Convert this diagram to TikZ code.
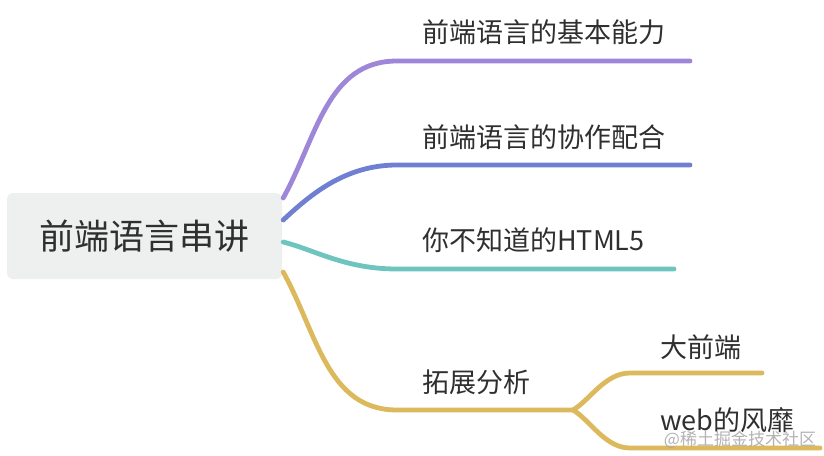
\documentclass[tikz,border=0pt]{standalone}
\usepackage{fontspec}
\setmainfont{Noto Sans CJK SC}
\usetikzlibrary{calc}
\definecolor{purp}{HTML}{9E86D8}
\definecolor{blu}{HTML}{6F80D3}
\definecolor{tealb}{HTML}{6EC4BE}
\definecolor{goldb}{HTML}{DDB95E}
\definecolor{rootbg}{HTML}{EEF0EF}
\definecolor{txt}{HTML}{2F2F2F}

\begin{document}
\begin{tikzpicture}[x=1pt,y=-1pt,
  br/.style={line width=4.8pt,line cap=round},
  lbl/.style={anchor=west,inner sep=0pt,text=txt,font=\fontsize{27}{30}\selectfont}]
  \useasboundingbox (0,0) rectangle (824,455);
  \node[fill=rootbg,rounded corners=6pt,minimum width=275pt,minimum height=86pt,
    text=txt,font=\fontsize{35}{40}\selectfont] (root) at (144.5,236) {前端语言串讲};
  % labels
  \node[lbl] (a) at (422,32) {前端语言的基本能力};
  \node[lbl] (b) at (422,137) {前端语言的协作配合};
  \node[lbl] (c) at (422,240) {你不知道的HTML5};
  \node[lbl] (d) at (422,382) {拓展分析};
  \node[lbl] (d1) at (660,347) {大前端};
  \node[lbl] (d2) at (660,420) {web的风靡};
  % line ends
  \coordinate (a0) at (397,61);  \coordinate (a1) at (690,61);
  \coordinate (b0) at (397,165); \coordinate (b1) at (690,165);
  \coordinate (c0) at (397,269); \coordinate (c1) at (674,269);
  \coordinate (d0) at (397,410); \coordinate (dx) at (573,410);
  \coordinate (d10) at (630,373); \coordinate (d11) at (762,373);
  \coordinate (d20) at (630,448); \coordinate (d21) at (820,448);
  % branches
  \draw[br,purp] ($(root.east)+(1,-38)$) .. controls (317,137) and (327,61) .. (a0) -- (a1);
  \draw[br,blu] ($(root.east)+(1,-16)$) .. controls (310,195) and (345,165) .. (b0) -- (b1);
  \draw[br,tealb] ($(root.east)+(1,6)$) .. controls (315,250) and (345,269) .. (c0) -- (c1);
  \draw[br,goldb] ($(root.east)+(1,36)$) .. controls (317,333) and (327,410) .. (d0) -- (dx);
  \draw[br,goldb] (dx) .. controls (590,400) and (605,373) .. (d10) -- (d11);
  \draw[br,goldb] (dx) .. controls (590,420) and (605,448) .. (d20) -- (d21);
  \node[text=gray!70,opacity=0.85,inner sep=0pt,font=\fontsize{17}{19}\selectfont] (wm) at (740,440) {@稀土掘金技术社区};
\end{tikzpicture}
\end{document}
